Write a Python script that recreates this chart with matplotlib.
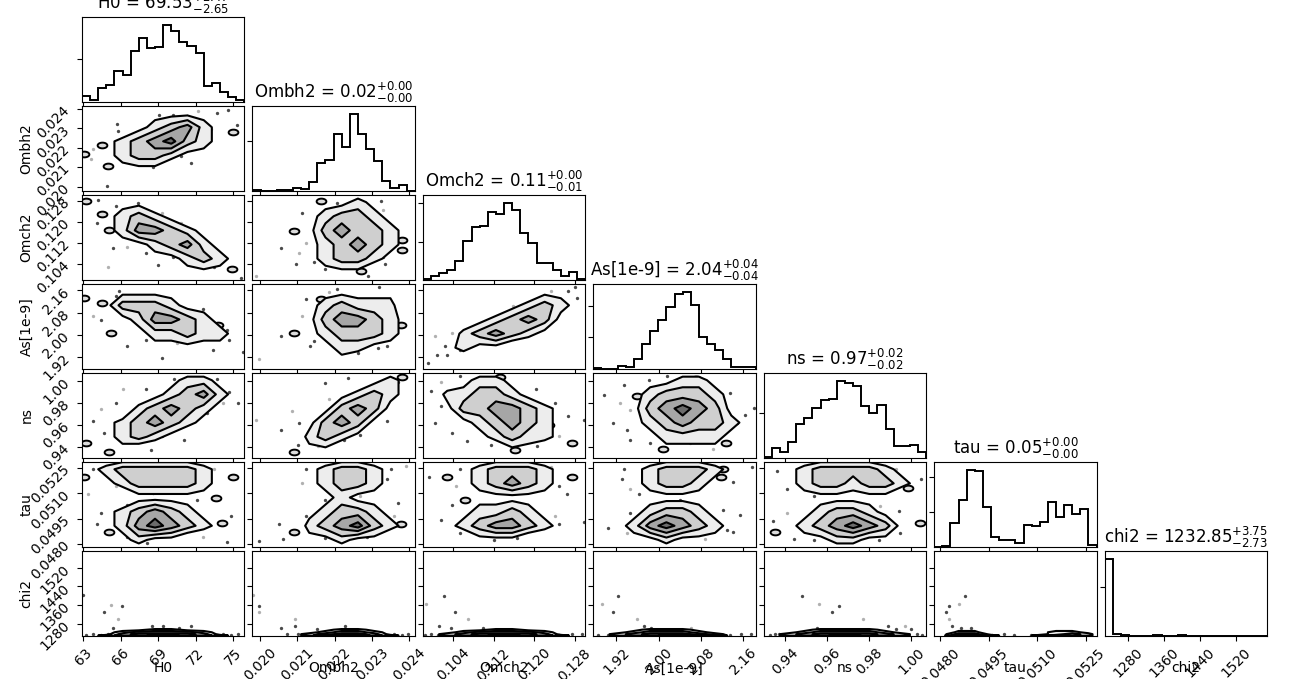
import numpy as np
import matplotlib
matplotlib.use("Agg")
import matplotlib.pyplot as plt
from matplotlib.path import Path

# ---- parameters, plot ranges, ticks -------------------------------------
names = ["H0", "Ombh2", "Omch2", "As[1e-9]", "ns", "tau", "chi2"]
lims = [(62.9, 75.9), (0.01979, 0.02415), (0.0980, 0.1301), (1.877, 2.183),
        (0.930, 1.007), (0.04782, 0.05284), (1229.0, 1590.0)]
ticks = [[63, 66, 69, 72, 75],
         [0.020, 0.021, 0.022, 0.023, 0.024],
         [0.104, 0.112, 0.120, 0.128],
         [1.92, 2.00, 2.08, 2.16],
         [0.94, 0.96, 0.98, 1.00],
         [0.0480, 0.0495, 0.0510, 0.0525],
         [1280, 1360, 1440, 1520]]
tick_fmt = ["%d", "%.3f", "%.3f", "%.2f", "%.2f", "%.4f", "%d"]

# title values: median, +err, -err
medians = ["69.53", "0.02", "0.11", "2.04", "0.97", "0.05", "1232.85"]
err_plus = ["2.47", "0.00", "0.00", "0.04", "0.02", "0.00", "3.75"]
err_minus = ["2.65", "0.00", "0.01", "0.04", "0.02", "0.00", "2.73"]

# ---- 1D histograms (20 bins over the plot range) ------------------------
hist_H0 = [18, 5, 41, 48, 92, 78, 149, 189, 159, 162, 227, 209, 177, 163, 143, 45, 55, 29, 13, 5]
hist_Ombh2 = [2, 0, 0, 2, 2, 8, 4, 25, 83, 90, 167, 128, 227, 167, 122, 88, 30, 8, 17, 0]
hist_Omch2 = [3, 12, 19, 30, 55, 115, 156, 160, 201, 196, 228, 208, 139, 110, 50, 50, 28, 10, 23, 3]
hist_As = [2, 0, 0, 10, 7, 30, 75, 112, 147, 184, 224, 230, 192, 95, 74, 57, 30, 5, 5, 5]
hist_ns = [3, 30, 19, 48, 103, 120, 149, 173, 178, 232, 227, 215, 157, 135, 160, 87, 35, 37, 40, 17]
hist_tau = [0, 3, 73, 141, 231, 228, 120, 31, 20, 20, 13, 67, 64, 76, 134, 91, 126, 98, 114, 6]
hist_chi2 = [100, 2, 1, 0, 0, 0, 1, 0, 0, 1, 0, 0, 0, 0, 0, 0, 0, 0, 0, 0]

hist_ticks_H0 = [127]
hist_ticks_Ombh2 = [147]
hist_ticks_Omch2 = [113, 226]
hist_ticks_As = [94, 188]
hist_ticks_ns = [134]
hist_ticks_tau = [105, 210]
hist_ticks_chi2 = [64]

# ---- 2D density levels (10 x-cells, top row first; 0 empty .. 5 core) ---
dens_H0_Ombh2 = ["0000111110", "0001234211", "0123453210", "1123321100", "0111101000", "0000000000"]
dens_H0_Omch2 = ["1111000000", "0123210000", "0124432100", "0011234210", "0000112321", "0000001111"]
dens_H0_As = ["1111110000", "0133321100", "0012443210", "0001223221", "0000111110", "0000000000"]
dens_H0_ns = ["0000012211", "0000123421", "0002343210", "0123432100", "0123210000", "1110000000"]
dens_H0_tau = ["1233333211", "0123333210", "0001111100", "0123432110", "0124543210", "0012110000"]
dens_Ombh2_Omch2 = ["0000112110", "0001233210", "0011343321", "0001234321", "0001233210", "0000111000"]
dens_Ombh2_As = ["0000111110", "0001232220", "0011344321", "0001233321", "0000122110", "0000010000"]
dens_Ombh2_ns = ["0000000121", "0000012321", "0000134310", "0001343100", "0002321000", "0001100000"]
dens_Ombh2_tau = ["0001233210", "0001233210", "0000121100", "0001233210", "0002345321", "0001121100"]
dens_Omch2_As = ["0000000111", "0000012321", "0001234310", "0023432100", "0121100000", "1100000000"]
dens_Omch2_ns = ["0012210000", "0223321000", "0133443210", "0012343210", "0001232210", "0000011000"]
dens_Omch2_tau = ["0012333210", "0112343211", "0011111100", "0012232100", "0123443210", "0001110000"]
dens_As_ns = ["0001122100", "0012333210", "0013454310", "0012343321", "0001222210", "0001111100"]
dens_As_tau = ["0012333210", "0012332100", "0001111000", "0012332100", "0124543210", "0011211100"]
dens_ns_tau = ["0123333210", "0123323321", "0011111100", "0012332110", "0123454310", "0011221100"]

# chi2 row: rows centred at these chi2 values (bottom to top)
chi2_rows = [1231, 1237, 1245, 1256]
dens_H0_chi2 = ["0011221100", "0123333210", "1134444311", "1234554321"]
dens_Ombh2_chi2 = ["0000122100", "0001233210", "0012344311", "0112455321"]
dens_Omch2_chi2 = ["0011221100", "0123333210", "1234444311", "1234554321"]
dens_As_chi2 = ["0012221000", "0123332100", "1234443211", "1234554311"]
dens_ns_chi2 = ["0012222100", "0123333210", "1234444321", "1234554321"]
dens_tau_chi2 = ["0110000111", "0220001221", "1331111232", "1442112332"]

# ---- stray samples (x, y, kind): 0 dark dot, 1 tiny contour loop, 2 faint dot
dots_H0_Ombh2 = [(63.1, 0.02167, 1), (64.5, 0.02213, 1), (65.0, 0.02107, 1), (64.9, 0.02005, 0),
                 (65.7, 0.02321, 0), (68.6, 0.02099, 0), (71.6, 0.02121, 0), (73.7, 0.02380, 0),
                 (74.6, 0.02393, 0), (75.0, 0.02280, 1), (70.2, 0.02371, 0), (67.3, 0.02145, 0),
                 (63.6, 0.02145, 2), (72.9, 0.02313, 0), (65.8, 0.02287, 0), (63.8, 0.02193, 2),
                 (67.0, 0.02145, 0), (67.8, 0.02124, 2), (71.3, 0.02364, 0), (75.3, 0.02319, 0),
                 (72.2, 0.02388, 2), (70.8, 0.02158, 0), (73.2, 0.02295, 2), (69.1, 0.02371, 0)]
dots_H0_Omch2 = [(63.2, 0.1278, 1), (64.5, 0.1229, 1), (65.1, 0.1167, 1), (74.9, 0.1020, 1),
                 (65.4, 0.1099, 0), (67.4, 0.1271, 0), (69.0, 0.1035, 0), (73.5, 0.1028, 0),
                 (75.6, 0.0988, 0), (64.2, 0.1284, 0), (70.8, 0.1195, 2), (65.0, 0.1028, 2),
                 (65.6, 0.1259, 0), (66.5, 0.1105, 2), (68.0, 0.1080, 0), (70.2, 0.1067, 0),
                 (72.3, 0.1144, 2), (73.5, 0.1092, 0), (71.7, 0.1041, 0), (64.1, 0.1195, 0),
                 (69.3, 0.1233, 2)]
dots_H0_As = [(63.1, 2.134, 1), (64.5, 2.116, 1), (65.2, 2.007, 1), (73.8, 2.036, 1),
              (74.7, 1.983, 0), (75.8, 1.937, 0), (73.4, 1.946, 0), (69.3, 1.916, 0),
              (66.5, 1.958, 0), (65.9, 2.159, 0), (63.8, 2.067, 2), (71.7, 1.976, 0),
              (65.6, 2.140, 0), (67.1, 2.128, 2), (64.4, 2.055, 0), (68.0, 1.983, 0),
              (70.5, 1.971, 2), (72.6, 2.092, 0), (74.5, 2.019, 0), (69.9, 2.128, 0)]
dots_H0_ns = [(63.2, 0.9439, 1), (65.1, 0.9358, 1), (72.3, 1.0000, 1), (73.7, 1.0016, 0),
              (74.7, 0.9900, 0), (71.1, 0.9465, 0), (68.4, 0.9373, 0), (63.8, 0.9631, 0),
              (66.2, 0.9924, 2), (75.4, 0.9801, 0), (64.7, 0.9525, 0), (70.3, 1.0016, 0),
              (64.4, 0.9740, 2), (65.6, 0.9801, 0), (68.0, 0.9924, 0), (69.3, 0.9496, 0),
              (67.1, 0.9450, 2), (72.9, 0.9710, 0), (74.2, 0.9801, 2), (70.2, 0.9618, 0)]
dots_H0_tau = [(63.1, 0.05199, 1), (75.0, 0.05199, 1), (73.6, 0.05073, 1), (65.1, 0.04870, 1),
               (74.1, 0.04923, 1), (64.1, 0.04918, 0), (66.5, 0.05033, 0), (72.1, 0.05063, 0),
               (68.1, 0.04804, 0), (63.4, 0.05093, 2), (74.5, 0.04814, 0), (70.8, 0.05244, 0),
               (63.8, 0.05242, 0), (65.6, 0.05142, 2), (68.6, 0.05103, 0), (72.3, 0.05182, 0),
               (73.5, 0.05242, 2), (64.4, 0.04983, 0), (66.5, 0.04844, 0), (72.6, 0.04844, 2),
               (71.1, 0.05003, 0), (74.8, 0.04963, 0)]
dots_Ombh2_Omch2 = [(0.02162, 0.1279, 1), (0.02092, 0.1166, 1), (0.02380, 0.1131, 1), (0.02380, 0.1092, 1),
                    (0.02271, 0.1015, 1), (0.02057, 0.1099, 0), (0.02323, 0.1279, 0), (0.02097, 0.1041, 0),
                    (0.01989, 0.0996, 2), (0.02336, 0.1041, 0), (0.02289, 0.0996, 0), (0.02175, 0.1022, 0),
                    (0.02113, 0.1233, 0), (0.02123, 0.1118, 2), (0.02144, 0.1048, 0), (0.02330, 0.1246, 2),
                    (0.02350, 0.1169, 0), (0.02330, 0.1067, 0), (0.02206, 0.1271, 0), (0.02103, 0.1080, 2)]
dots_Ombh2_As = [(0.02162, 2.131, 1), (0.02092, 2.007, 1), (0.02379, 2.036, 1), (0.01996, 1.912, 2),
                 (0.02145, 1.976, 0), (0.02319, 2.174, 0), (0.02341, 1.995, 0), (0.02262, 1.935, 0),
                 (0.02315, 1.952, 0), (0.02206, 2.165, 0), (0.02057, 1.995, 0), (0.02123, 2.128, 0),
                 (0.02113, 2.068, 2), (0.02134, 1.958, 0), (0.02330, 2.116, 0), (0.02360, 2.068, 2),
                 (0.02340, 1.958, 0), (0.02226, 1.952, 0), (0.02185, 2.153, 2)]
dots_Ombh2_ns = [(0.02092, 0.9358, 1), (0.02380, 1.0032, 1), (0.02319, 0.9970, 0), (0.02057, 0.9554, 0),
                 (0.01989, 0.9647, 2), (0.02175, 0.9981, 0), (0.02236, 1.0024, 0), (0.02341, 0.9631, 0),
                 (0.02084, 0.9724, 2), (0.02101, 0.9416, 0), (0.02267, 0.9508, 0), (0.02123, 0.9496, 0),
                 (0.02154, 0.9404, 2), (0.02103, 0.9618, 0), (0.02206, 0.9648, 2), (0.02288, 0.9924, 0),
                 (0.02350, 0.9862, 0), (0.02185, 0.9831, 2), (0.02226, 0.9465, 0), (0.02371, 0.9985, 0)]
dots_Ombh2_tau = [(0.02092, 0.04870, 1), (0.02379, 0.04918, 1), (0.02051, 0.04918, 0), (0.01996, 0.04820, 0),
                  (0.02350, 0.05244, 0), (0.02371, 0.05043, 0), (0.02391, 0.05262, 2), (0.02315, 0.05153, 0),
                  (0.02175, 0.05063, 0), (0.02062, 0.04832, 0), (0.02123, 0.05242, 0), (0.02113, 0.05162, 2),
                  (0.02340, 0.05182, 0), (0.02123, 0.04963, 0), (0.02360, 0.04963, 2), (0.02288, 0.04844, 0),
                  (0.02175, 0.04834, 0), (0.02268, 0.05083, 2)]
dots_Omch2_As = [(0.0990, 1.898, 0), (0.1008, 1.928, 0), (0.1027, 1.928, 0), (0.1266, 2.159, 0),
                 (0.1284, 2.134, 0), (0.1280, 2.171, 0), (0.1234, 2.159, 2), (0.1054, 1.946, 0),
                 (0.1219, 2.067, 0), (0.1004, 1.995, 2), (0.1023, 1.958, 0), (0.1038, 2.007, 2),
                 (0.1083, 1.983, 0), (0.1129, 2.007, 0), (0.1159, 2.104, 2), (0.1204, 2.116, 0),
                 (0.1242, 2.068, 0), (0.1189, 2.019, 0), (0.1250, 2.128, 0)]
dots_Omch2_ns = [(0.1163, 0.9373, 1), (0.1275, 0.9439, 1), (0.1230, 0.9600, 1), (0.1132, 1.0032, 1),
                 (0.0996, 0.9908, 0), (0.1004, 0.9616, 0), (0.1068, 0.9450, 0), (0.1266, 0.9677, 0),
                 (0.1298, 0.9647, 0), (0.1054, 1.0047, 0), (0.1205, 0.9404, 0), (0.1016, 0.9985, 2),
                 (0.1016, 0.9771, 0), (0.1038, 0.9526, 0), (0.1098, 1.0015, 2), (0.1204, 0.9924, 0),
                 (0.1242, 0.9801, 0), (0.1250, 0.9496, 2), (0.1114, 0.9419, 0)]
dots_Omch2_tau = [(0.1027, 0.05199, 1), (0.1064, 0.05058, 1), (0.1275, 0.05199, 1), (0.0993, 0.05199, 0),
                  (0.1038, 0.05033, 0), (0.1250, 0.04918, 0), (0.1298, 0.04928, 0), (0.1121, 0.04824, 0),
                  (0.1265, 0.05093, 0), (0.1234, 0.05254, 2), (0.1053, 0.05242, 0), (0.1046, 0.05142, 2),
                  (0.1250, 0.05142, 0), (0.1016, 0.04943, 0), (0.1053, 0.04864, 0), (0.1242, 0.04963, 2),
                  (0.1167, 0.04834, 0), (0.1098, 0.05003, 0)]
dots_As_ns = [(1.960, 0.9862, 1), (2.070, 1.0016, 1), (2.128, 0.9439, 1), (2.009, 0.9377, 1),
              (2.113, 0.9785, 0), (1.914, 0.9616, 0), (1.898, 0.9870, 0), (2.162, 0.9693, 0),
              (2.180, 0.9754, 0), (1.947, 0.9466, 0), (2.103, 0.9377, 2), (1.981, 1.0008, 0),
              (1.934, 0.9964, 0), (1.946, 0.9738, 2), (1.940, 0.9557, 0), (1.984, 0.9436, 0),
              (2.060, 0.9436, 2), (2.097, 0.9557, 0), (2.135, 0.9889, 0), (2.016, 1.0040, 0),
              (1.927, 0.9798, 2), (2.148, 0.9617, 0)]
dots_As_tau = [(2.122, 0.05244, 1), (2.118, 0.05194, 1), (1.978, 0.04953, 1), (1.931, 0.05184, 0),
               (2.154, 0.04973, 0), (2.177, 0.05254, 0), (1.905, 0.04892, 0), (2.140, 0.04872, 0),
               (1.963, 0.05093, 0), (2.088, 0.04832, 2), (1.934, 0.05244, 0), (1.946, 0.05123, 2),
               (2.141, 0.05164, 0), (1.946, 0.04983, 0), (1.940, 0.04862, 2), (2.122, 0.05003, 0),
               (2.129, 0.04882, 0), (2.041, 0.05063, 0)]
dots_ns_tau = [(0.9354, 0.04872, 1), (1.0039, 0.04923, 1), (0.9985, 0.05133, 1), (0.9362, 0.05234, 0),
               (0.9346, 0.04933, 0), (1.0047, 0.05184, 0), (0.9616, 0.05013, 0), (0.9847, 0.04822, 0),
               (0.9539, 0.04822, 0), (0.9939, 0.04993, 0), (0.9410, 0.05123, 0), (0.9928, 0.05244, 2),
               (0.9410, 0.04983, 2), (0.9442, 0.04832, 0), (0.9944, 0.04862, 0), (0.9850, 0.05023, 2),
               (0.9536, 0.05083, 0)]
dots_H0_chi2 = [(62.95, 1402, 0), (64.7, 1330, 0), (65.2, 1363, 2), (66.1, 1356, 0), (65.8, 1301, 2),
                (65.4, 1265, 0), (68.5, 1270, 0), (69.4, 1270, 0), (71.6, 1270, 0), (70.7, 1262, 0),
                (63.2, 1235, 0), (63.8, 1236, 0), (64.4, 1235, 0), (65.0, 1236, 0), (65.6, 1235, 0),
                (73.0, 1236, 0), (73.6, 1235, 0), (74.2, 1236, 0), (74.8, 1235, 0), (75.4, 1237, 0)]
dots_Ombh2_chi2 = [(0.01980, 1402, 2), (0.01996, 1356, 0), (0.01996, 1330, 2), (0.02055, 1265, 0),
                   (0.02073, 1236, 0), (0.02093, 1301, 2), (0.02093, 1270, 0), (0.02101, 1236, 0),
                   (0.02228, 1270, 0), (0.02153, 1259, 0), (0.02398, 1236, 0), (0.02380, 1235, 0),
                   (0.02360, 1236, 0), (0.02120, 1235, 0), (0.02140, 1236, 0)]
dots_Omch2_chi2 = [(0.0986, 1366, 2), (0.1022, 1399, 0), (0.1044, 1330, 0), (0.1070, 1301, 2),
                   (0.1012, 1270, 0), (0.1035, 1262, 0), (0.1099, 1265, 0), (0.0996, 1236, 0),
                   (0.1275, 1236, 0), (0.1227, 1236, 0), (0.0985, 1235, 0), (0.1010, 1235, 0),
                   (0.1250, 1235, 0), (0.1295, 1236, 0)]
dots_As_chi2 = [(1.893, 1366, 2), (1.924, 1399, 0), (1.915, 1330, 0), (1.960, 1301, 2),
                (1.973, 1270, 0), (1.986, 1262, 0), (2.061, 1262, 2), (2.155, 1236, 0),
                (2.174, 1236, 0), (1.932, 1236, 0), (1.885, 1235, 0), (1.905, 1235, 0),
                (2.135, 1235, 0)]
dots_ns_chi2 = [(0.9483, 1399, 0), (0.9562, 1364, 2), (0.9622, 1330, 0), (0.9657, 1356, 0),
                (0.9770, 1301, 2), (0.9552, 1265, 0), (0.9889, 1270, 0), (0.9929, 1259, 0),
                (0.9968, 1270, 2), (0.9999, 1259, 0), (0.9354, 1236, 0), (1.0028, 1236, 0),
                (0.9330, 1235, 0), (0.9370, 1236, 0), (0.9960, 1235, 0), (1.0050, 1235, 0)]
dots_tau_chi2 = [(0.04819, 1330, 0), (0.04829, 1356, 0), (0.04827, 1301, 2), (0.04857, 1366, 2),
                 (0.04877, 1399, 0), (0.04837, 1270, 0), (0.04865, 1262, 0), (0.04897, 1265, 0),
                 (0.04998, 1236, 0), (0.05174, 1237, 0), (0.04960, 1235, 0), (0.05030, 1235, 0),
                 (0.05080, 1235, 0)]

# ---- lookup tables built from the lists above ----------------------------
hists = [hist_H0, hist_Ombh2, hist_Omch2, hist_As, hist_ns, hist_tau, hist_chi2]
hist_ticks = [hist_ticks_H0, hist_ticks_Ombh2, hist_ticks_Omch2, hist_ticks_As,
              hist_ticks_ns, hist_ticks_tau, hist_ticks_chi2]
panels = {
    (1, 0): (dens_H0_Ombh2, dots_H0_Ombh2),
    (2, 0): (dens_H0_Omch2, dots_H0_Omch2),
    (3, 0): (dens_H0_As, dots_H0_As),
    (4, 0): (dens_H0_ns, dots_H0_ns),
    (5, 0): (dens_H0_tau, dots_H0_tau),
    (6, 0): (dens_H0_chi2, dots_H0_chi2),
    (2, 1): (dens_Ombh2_Omch2, dots_Ombh2_Omch2),
    (3, 1): (dens_Ombh2_As, dots_Ombh2_As),
    (4, 1): (dens_Ombh2_ns, dots_Ombh2_ns),
    (5, 1): (dens_Ombh2_tau, dots_Ombh2_tau),
    (6, 1): (dens_Ombh2_chi2, dots_Ombh2_chi2),
    (3, 2): (dens_Omch2_As, dots_Omch2_As),
    (4, 2): (dens_Omch2_ns, dots_Omch2_ns),
    (5, 2): (dens_Omch2_tau, dots_Omch2_tau),
    (6, 2): (dens_Omch2_chi2, dots_Omch2_chi2),
    (4, 3): (dens_As_ns, dots_As_ns),
    (5, 3): (dens_As_tau, dots_As_tau),
    (6, 3): (dens_As_chi2, dots_As_chi2),
    (5, 4): (dens_ns_tau, dots_ns_tau),
    (6, 4): (dens_ns_chi2, dots_ns_chi2),
    (6, 5): (dens_tau_chi2, dots_tau_chi2),
}

levels = [1.5, 2.5, 3.5, 4.5]
fills = ["#ededed", "#cfcfcf", "#a6a6a6", "#6c6c6c"]
t = np.linspace(0, 2 * np.pi, 40)
loop_marker = Path(np.column_stack([1.7 * np.cos(t), np.sin(t)]), closed=True)


def centres(lo, hi, n):
    d = (hi - lo) / n
    return lo + d * (np.arange(-1, n + 1) + 0.5)


def draw_2d(ax, i, j, rows, dots):
    z = np.array([[int(c) for c in r] for r in rows[::-1]], float)
    z = np.pad(z, 1)
    xs = centres(*lims[j], z.shape[1] - 2)
    if i == 6:
        ys = np.r_[lims[6][0], chi2_rows, 2 * chi2_rows[-1] - chi2_rows[-2]]
    else:
        ys = centres(*lims[i], z.shape[0] - 2)
    d = np.array(dots, float)
    for kind, style in [(0, dict(marker="o", ms=2.4, color="#4a4a4a", mew=0)),
                        (2, dict(marker="o", ms=2.4, color="#b0b0b0", mew=0)),
                        (1, dict(marker=loop_marker, ms=7, mfc="#dcdcdc", mec="k", mew=1.4))]:
        sel = d[d[:, 2] == kind]
        ax.plot(sel[:, 0], sel[:, 1], ls="none", zorder=1, **style)
    ax.contourf(xs, ys, z, levels=levels + [10], colors=fills, zorder=2)
    ax.contour(xs, ys, z, levels=levels, colors="k", linewidths=1.5, zorder=3)


fig = plt.figure(figsize=(12.99, 6.79), dpi=100)
gs = fig.add_gridspec(7, 7, left=0.0631, right=0.9754, bottom=0.0633, top=0.975,
                      wspace=0.05, hspace=0.05)

for i in range(7):
    for j in range(i + 1):
        ax = fig.add_subplot(gs[i, j])
        if i == j:
            h = hists[i]
            edges = np.linspace(lims[i][0], lims[i][1], len(h) + 1)
            ax.stairs(h, edges, color="k", lw=1.4)
            ax.set_ylim(0, 1.1 * max(h))
            ax.set_yticks(hist_ticks[i])
            ax.set_yticklabels([])
            ax.set_title(r"%s = $%s_{-%s}^{+%s}$" % (names[i], medians[i], err_minus[i], err_plus[i]))
        else:
            rows, dots = panels[(i, j)]
            draw_2d(ax, i, j, rows, dots)
            ax.set_ylim(lims[i])
            ax.set_yticks(ticks[i])
            if j == 0:
                ax.set_yticklabels([tick_fmt[i] % v for v in ticks[i]])
                ax.tick_params(axis="y", labelrotation=45)
                ax.set_ylabel(names[i])
                ax.yaxis.set_label_coords(-0.3, 0.5)
            else:
                ax.set_yticklabels([])
        ax.set_xlim(lims[j])
        ax.set_xticks(ticks[j])
        if i == 6:
            ax.set_xticklabels([tick_fmt[j] % v for v in ticks[j]])
            ax.tick_params(axis="x", labelrotation=45)
            ax.set_xlabel(names[j])
            ax.xaxis.set_label_coords(0.5, -0.3)
        else:
            ax.set_xticklabels([])

fig.savefig("out.png", dpi=100)
